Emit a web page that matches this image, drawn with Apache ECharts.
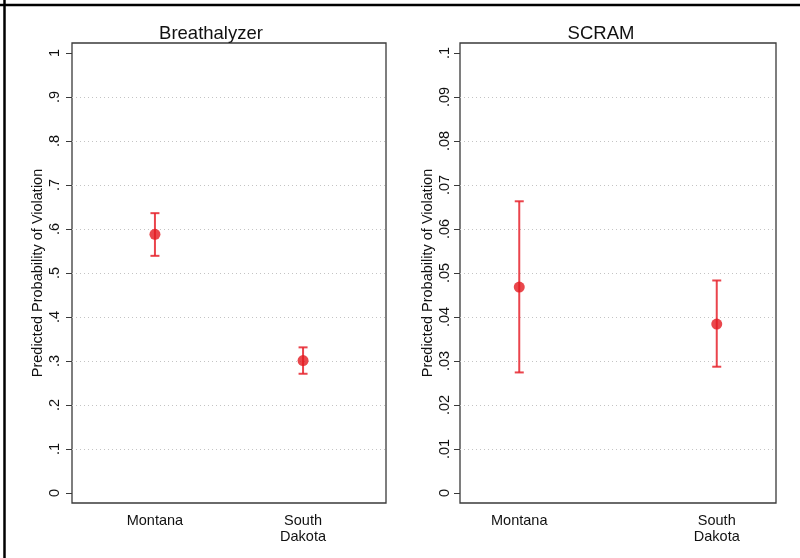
<!DOCTYPE html>
<html>
<head>
<meta charset="utf-8">
<title>Predicted Probability of Violation</title>
<script src="https://cdn.jsdelivr.net/npm/echarts@6/dist/echarts.min.js"></script>
<style>
  html, body { margin: 0; padding: 0; background: #fff; }
  #main { width: 800px; height: 558px; }
</style>
</head>
<body>
<div id="main"></div>
<script>
// data
var states = ['Montana', 'South\nDakota'];
var statePos = [1, 2];

var breathEst = [0.588, 0.301];
var breathLo  = [0.539, 0.271];
var breathHi  = [0.636, 0.331];

var scramEst = [0.0468, 0.0384];
var scramLo  = [0.0274, 0.0287];
var scramHi  = [0.0663, 0.0483];

var breathTicks = [0, 0.1, 0.2, 0.3, 0.4, 0.5, 0.6, 0.7, 0.8, 0.9, 1];
var scramTicks  = [0, 0.01, 0.02, 0.03, 0.04, 0.05, 0.06, 0.07, 0.08, 0.09, 0.1];

var red = '#e3191f';
var barRed = 'rgba(230, 35, 45, 0.85)';
var font = 'Liberation Sans, Arial, Helvetica, sans-serif';

// stata style labels: .5 instead of 0.5
function stataNum(v) {
    var s = String(+v.toFixed(3));
    return s.replace(/^0\./, '.');
}

function pts(est) {
    return est.map(function (v, i) { return [statePos[i], v]; });
}
function bars(lo, hi) {
    return lo.map(function (v, i) { return [statePos[i], v, hi[i]]; });
}

function errorBar(params, api) {
    var x = api.value(0);
    var lo = api.coord([x, api.value(1)]);
    var hi = api.coord([x, api.value(2)]);
    var w = 4.5;
    var st = { stroke: barRed, lineWidth: 2 };
    return {
        type: 'group',
        children: [
            { type: 'line', shape: { x1: lo[0], y1: lo[1], x2: hi[0], y2: hi[1] }, style: st },
            { type: 'line', shape: { x1: hi[0] - w, y1: hi[1], x2: hi[0] + w, y2: hi[1] }, style: st },
            { type: 'line', shape: { x1: lo[0] - w, y1: lo[1], x2: lo[0] + w, y2: lo[1] }, style: st }
        ]
    };
}

var chart = echarts.init(document.getElementById('main'));

var frame = { show: true, borderColor: '#3a3a3a', borderWidth: 1.3, backgroundColor: '#fff' };

var option = {
    animation: false,
    backgroundColor: '#fff',
    textStyle: { fontFamily: font },
    title: [
        { text: 'Breathalyzer', left: 206, top: 19, textAlign: 'center',
          textStyle: { fontFamily: font, fontSize: 18.5, fontWeight: 'normal', color: '#111' } },
        { text: 'SCRAM', left: 596, top: 19, textAlign: 'center',
          textStyle: { fontFamily: font, fontSize: 18.5, fontWeight: 'normal', color: '#111' } }
    ],
    graphic: [
        { type: 'line', shape: { x1: 4.5, y1: 0, x2: 4.5, y2: 558 }, style: { stroke: '#000', lineWidth: 2.5 } },
        { type: 'line', shape: { x1: 0, y1: 5, x2: 800, y2: 5 }, style: { stroke: '#000', lineWidth: 2.5 } }
    ],
    grid: [
        // frames (plot region boxes)
        Object.assign({ left: 72, right: 414, top: 43, bottom: 55 }, frame),
        Object.assign({ left: 460, right: 24, top: 43, bottom: 55 }, frame),
        // data regions, from first to last tick
        { left: 72, right: 414, top: 53, bottom: 65 },
        { left: 460, right: 24, top: 53, bottom: 65 }
    ],
    xAxis: [
        { gridIndex: 0, type: 'value', min: 0.44, max: 2.56,
          axisLine: { show: false }, axisTick: { show: false }, splitLine: { show: false },
          axisLabel: { customValues: statePos, margin: 10, fontSize: 14.5, lineHeight: 16, color: '#111',
                       formatter: function (v) { return states[statePos.indexOf(v)]; } } },
        { gridIndex: 1, type: 'value', min: 0.7, max: 2.3,
          axisLine: { show: false }, axisTick: { show: false }, splitLine: { show: false },
          axisLabel: { customValues: statePos, margin: 10, fontSize: 14.5, lineHeight: 16, color: '#111',
                       formatter: function (v) { return states[statePos.indexOf(v)]; } } },
        { gridIndex: 2, type: 'value', min: 0.44, max: 2.56, show: false },
        { gridIndex: 3, type: 'value', min: 0.7, max: 2.3, show: false }
    ],
    yAxis: [
        { gridIndex: 0, type: 'value', show: false },
        { gridIndex: 1, type: 'value', show: false },
        { gridIndex: 2, type: 'value', min: 0, max: 1, interval: 0.1,
          name: 'Predicted Probability of Violation', nameLocation: 'middle', nameGap: 27,
          nameTextStyle: { fontSize: 14.5, color: '#111', fontFamily: font },
          axisLine: { show: false },
          axisTick: { show: true, length: 6, lineStyle: { color: '#3a3a3a' } },
          axisLabel: { rotate: 90, margin: 10, fontSize: 14.5, color: '#111',
                       customValues: breathTicks, formatter: stataNum },
          splitLine: { show: true, showMinLine: false, showMaxLine: false,
                       lineStyle: { color: '#c4c4c4', type: [1, 3], width: 1 } } },
        { gridIndex: 3, type: 'value', min: 0, max: 0.1, interval: 0.01,
          name: 'Predicted Probability of Violation', nameLocation: 'middle', nameGap: 25,
          nameTextStyle: { fontSize: 14.5, color: '#111', fontFamily: font },
          axisLine: { show: false },
          axisTick: { show: true, length: 6, lineStyle: { color: '#3a3a3a' } },
          axisLabel: { rotate: 90, margin: 8, fontSize: 14.5, color: '#111',
                       customValues: scramTicks, formatter: stataNum },
          splitLine: { show: true, showMinLine: false, showMaxLine: false,
                       lineStyle: { color: '#c4c4c4', type: [1, 3], width: 1 } } }
    ],
    series: [
        { type: 'custom', xAxisIndex: 2, yAxisIndex: 2, renderItem: errorBar,
          data: bars(breathLo, breathHi), z: 2 },
        { type: 'scatter', xAxisIndex: 2, yAxisIndex: 2, symbol: 'circle', symbolSize: 11,
          itemStyle: { color: red }, data: pts(breathEst), z: 3 },
        { type: 'custom', xAxisIndex: 3, yAxisIndex: 3, renderItem: errorBar,
          data: bars(scramLo, scramHi), z: 2 },
        { type: 'scatter', xAxisIndex: 3, yAxisIndex: 3, symbol: 'circle', symbolSize: 11,
          itemStyle: { color: red }, data: pts(scramEst), z: 3 }
    ]
};

chart.setOption(option);
</script>
</body>
</html>
